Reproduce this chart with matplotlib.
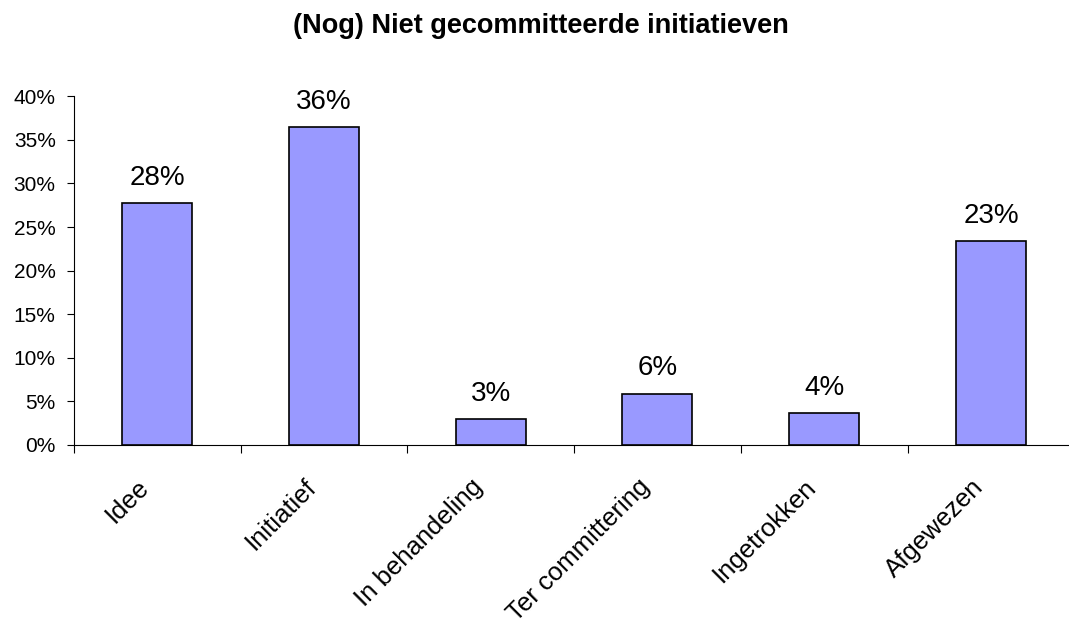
import matplotlib.pyplot as plt
import numpy as np
from matplotlib.transforms import ScaledTranslation

plt.rcParams["font.family"] = ["Liberation Sans", "DejaVu Sans"]

categories = ["Idee", "Initiatief", "In behandeling", "Ter committering",
              "Ingetrokken", "Afgewezen"]
shares = [27.7, 36.5, 3.0, 5.9, 3.7, 23.4]
value_labels = ["28%", "36%", "3%", "6%", "4%", "23%"]
yticks = [0, 5, 10, 15, 20, 25, 30, 35, 40]

fig = plt.figure(figsize=(10.69, 6.25), dpi=100)
ax = fig.add_axes([0.069, 0.288, 0.936, 0.558])

x = np.arange(len(categories))
bars = ax.bar(x, shares, width=0.42, color="#9999FF", edgecolor="black",
              linewidth=1.2, zorder=3)

for b, lab in zip(bars, value_labels):
    ax.text(b.get_x() + b.get_width() / 2, b.get_height() + 1.4, lab,
            ha="center", va="bottom", fontsize=20)

ax.set_xlim(-0.5, len(categories) - 0.5)
ax.set_ylim(0, 40)
ax.set_yticks(yticks)
ax.set_yticklabels([f"{t}%" for t in yticks], fontsize=15)

# ticks sit between the categories, labels under the bar centres
ax.set_xticks(np.arange(len(categories) + 1) - 0.5)
ax.set_xticklabels([])
ax.set_xticks(x, minor=True)
ax.set_xticklabels(categories, minor=True, rotation=45, ha="right",
                   rotation_mode="anchor", fontsize=18.5)
ax.tick_params(axis="x", which="minor", length=0, pad=12)
ax.tick_params(axis="x", which="major", length=5.5, direction="out")
ax.tick_params(axis="y", length=5, direction="out", pad=8)

# push the slanted labels a bit down-left, like the original
shift = ScaledTranslation(-0.20, -0.13, fig.dpi_scale_trans)
for lab in ax.get_xticklabels(minor=True):
    lab.set_transform(lab.get_transform() + shift)

for side in ["top", "right"]:
    ax.spines[side].set_visible(False)

fig.text(0.506, 0.958, "(Nog) Niet gecommitteerde initiatieven", fontsize=19.5,
         fontweight="bold", ha="center", va="center")

fig.savefig("out.png", dpi=100)
